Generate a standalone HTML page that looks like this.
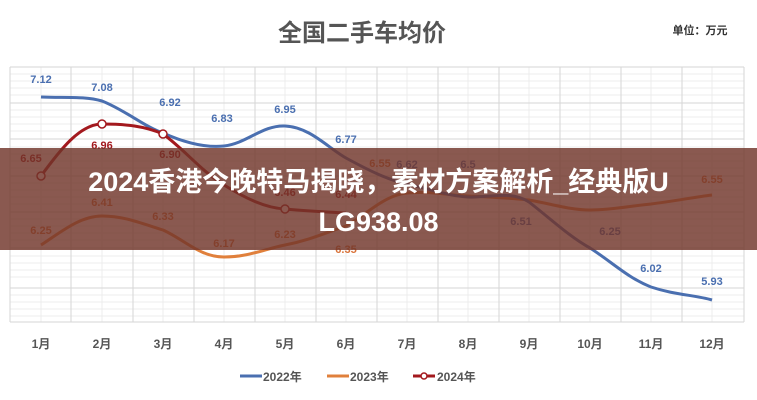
<!DOCTYPE html>
<html><head><meta charset="utf-8"><style>
html,body{margin:0;padding:0;background:#fff;}
body{width:757px;height:400px;overflow:hidden;position:relative;font-family:"Liberation Sans","Noto Sans CJK SC",sans-serif;}
svg{position:absolute;left:0;top:0;}
.banner{position:absolute;left:0;top:148px;width:757px;height:102px;background:rgba(112,52,42,0.82);}
.bt{position:absolute;left:0;top:162px;width:757px;text-align:center;color:#fff;font-weight:bold;font-size:27px;line-height:40px;font-family:"Liberation Sans","Noto Sans CJK SC",sans-serif;}
</style></head><body>
<svg width="757" height="400" viewBox="0 0 757 400" font-family="Liberation Sans, Noto Sans CJK SC, sans-serif">
<text x="362" y="41" text-anchor="middle" font-size="24" font-weight="bold" fill="#555">全国二手车均价</text>
<text x="700" y="34" text-anchor="middle" font-size="11" font-weight="bold" fill="#333">单位：万元</text>
<g stroke="#ececec" stroke-width="1">
<line x1="10" x2="744" y1="74" y2="74"/><line x1="10" x2="744" y1="81" y2="81"/><line x1="10" x2="744" y1="88" y2="88"/><line x1="10" x2="744" y1="95" y2="95"/>
<line x1="10" x2="744" y1="110" y2="110"/><line x1="10" x2="744" y1="117" y2="117"/><line x1="10" x2="744" y1="124" y2="124"/><line x1="10" x2="744" y1="131" y2="131"/>
<line x1="10" x2="744" y1="147" y2="147"/><line x1="10" x2="744" y1="154" y2="154"/><line x1="10" x2="744" y1="161" y2="161"/><line x1="10" x2="744" y1="168" y2="168"/>
<line x1="10" x2="744" y1="183" y2="183"/><line x1="10" x2="744" y1="190" y2="190"/><line x1="10" x2="744" y1="197" y2="197"/><line x1="10" x2="744" y1="204" y2="204"/>
<line x1="10" x2="744" y1="219" y2="219"/><line x1="10" x2="744" y1="226" y2="226"/><line x1="10" x2="744" y1="233" y2="233"/><line x1="10" x2="744" y1="240" y2="240"/>
<line x1="10" x2="744" y1="256" y2="256"/><line x1="10" x2="744" y1="263" y2="263"/><line x1="10" x2="744" y1="270" y2="270"/><line x1="10" x2="744" y1="277" y2="277"/>
<line x1="10" x2="744" y1="295" y2="295"/><line x1="10" x2="744" y1="302" y2="302"/><line x1="10" x2="744" y1="309" y2="309"/><line x1="10" x2="744" y1="316" y2="316"/>
<line y1="67" y2="322" x1="41" x2="41"/><line y1="67" y2="322" x1="102" x2="102"/><line y1="67" y2="322" x1="163" x2="163"/><line y1="67" y2="322" x1="224" x2="224"/><line y1="67" y2="322" x1="285" x2="285"/><line y1="67" y2="322" x1="346" x2="346"/><line y1="67" y2="322" x1="407" x2="407"/><line y1="67" y2="322" x1="468" x2="468"/><line y1="67" y2="322" x1="529" x2="529"/><line y1="67" y2="322" x1="590" x2="590"/><line y1="67" y2="322" x1="651" x2="651"/><line y1="67" y2="322" x1="712" x2="712"/>
</g>
<g stroke="#d6d6d6" stroke-width="1">
<line x1="10" x2="744" y1="67" y2="67"/><line x1="10" x2="744" y1="103" y2="103"/><line x1="10" x2="744" y1="139" y2="139"/><line x1="10" x2="744" y1="176" y2="176"/><line x1="10" x2="744" y1="212" y2="212"/><line x1="10" x2="744" y1="248" y2="248"/><line x1="10" x2="744" y1="288" y2="288"/><line x1="10" x2="744" y1="322" y2="322"/>
<line y1="67" y2="322" x1="10" x2="10"/><line y1="67" y2="322" x1="71" x2="71"/><line y1="67" y2="322" x1="133" x2="133"/><line y1="67" y2="322" x1="194" x2="194"/><line y1="67" y2="322" x1="255" x2="255"/><line y1="67" y2="322" x1="316" x2="316"/><line y1="67" y2="322" x1="377" x2="377"/><line y1="67" y2="322" x1="438" x2="438"/><line y1="67" y2="322" x1="499" x2="499"/><line y1="67" y2="322" x1="560" x2="560"/><line y1="67" y2="322" x1="621" x2="621"/><line y1="67" y2="322" x1="682" x2="682"/><line y1="67" y2="322" x1="744" x2="744"/>
</g>
<path d="M41,245 C61,232 80,216 102,216 C125,216 143,224 163,230 C185,240 200,257 224,257 C248,257 265,249 285,245 C310,240 325,233 346,226 C370,212 385,195 407,193 C430,191 448,195 468,196 C490,197 510,198 529,200 C552,204 570,210 590,210 C612,210 630,206 651,204 C675,201 695,197 712,195" fill="none" stroke="#e0803c" stroke-width="3"/>
<path d="M41,97 C65,98 85,96 102,101 C125,110 143,126 163,133 C183,142 205,148 224,146 C248,143 262,125 285,126 C310,127 328,148 346,158 C368,170 388,180 407,184 C430,189 448,196 468,197 C490,198 510,190 529,202 C552,220 570,237 590,248 C612,262 628,278 651,287 C675,295 695,295 712,300" fill="none" stroke="#4a6fb0" stroke-width="3"/>
<path d="M41,176 C60,150 80,124 102,124 C125,124 145,126 163,134 C185,150 200,170 224,185 C245,198 265,208 285,209 C305,211 325,212 346,213" fill="none" stroke="#a3191e" stroke-width="3"/>
<g fill="#fff" stroke="#a3191e" stroke-width="1.5"><circle cx="41" cy="176" r="4"/><circle cx="102" cy="124" r="4"/><circle cx="163" cy="134" r="4"/><circle cx="285" cy="209" r="4"/></g>
<g font-size="11" font-weight="bold" fill="#4a6fb0" text-anchor="middle">
<text x="41" y="83">7.12</text><text x="102" y="91">7.08</text><text x="170" y="106">6.92</text><text x="222" y="122">6.83</text><text x="285" y="113">6.95</text><text x="346" y="143">6.77</text><text x="407" y="168">6.62</text><text x="468" y="168">6.5</text><text x="521" y="225">6.51</text><text x="610" y="235">6.25</text><text x="651" y="272">6.02</text><text x="712" y="285">5.93</text>
</g>
<g font-size="11" font-weight="bold" fill="#d9733a" text-anchor="middle">
<text x="41" y="234">6.25</text><text x="102" y="206">6.41</text><text x="163" y="220">6.33</text><text x="224" y="247">6.17</text><text x="285" y="238">6.23</text><text x="346" y="253">6.35</text><text x="380" y="167">6.55</text><text x="712" y="183">6.55</text>
</g>
<g font-size="11" font-weight="bold" fill="#a3191e" text-anchor="middle">
<text x="31" y="162">6.65</text><text x="102" y="149">6.96</text><text x="170" y="158">6.90</text><text x="285" y="196">6.46</text><text x="346" y="198">6.44</text>
</g>
<g font-size="12" font-weight="bold" fill="#555" text-anchor="middle">
<text x="41" y="348">1月</text><text x="102" y="348">2月</text><text x="163" y="348">3月</text><text x="224" y="348">4月</text><text x="285" y="348">5月</text><text x="346" y="348">6月</text><text x="407" y="348">7月</text><text x="468" y="348">8月</text><text x="529" y="348">9月</text><text x="590" y="348">10月</text><text x="651" y="348">11月</text><text x="712" y="348">12月</text>
</g>
<g font-size="12" font-weight="bold" fill="#555">
<line x1="240" x2="262" y1="376" y2="376" stroke="#4a6fb0" stroke-width="3"/><text x="263" y="381">2022年</text>
<line x1="327" x2="349" y1="376" y2="376" stroke="#e0803c" stroke-width="3"/><text x="350" y="381">2023年</text>
<line x1="413" x2="435" y1="376" y2="376" stroke="#a3191e" stroke-width="3"/><circle cx="424" cy="376" r="3" fill="#fff" stroke="#a3191e" stroke-width="1.5"/><text x="437" y="381">2024年</text>
</g>
</svg>
<div class="banner"></div>
<div class="bt">2024香港今晚特马揭晓，素材方案解析_经典版U<br>LG938.08</div>
</body></html>
